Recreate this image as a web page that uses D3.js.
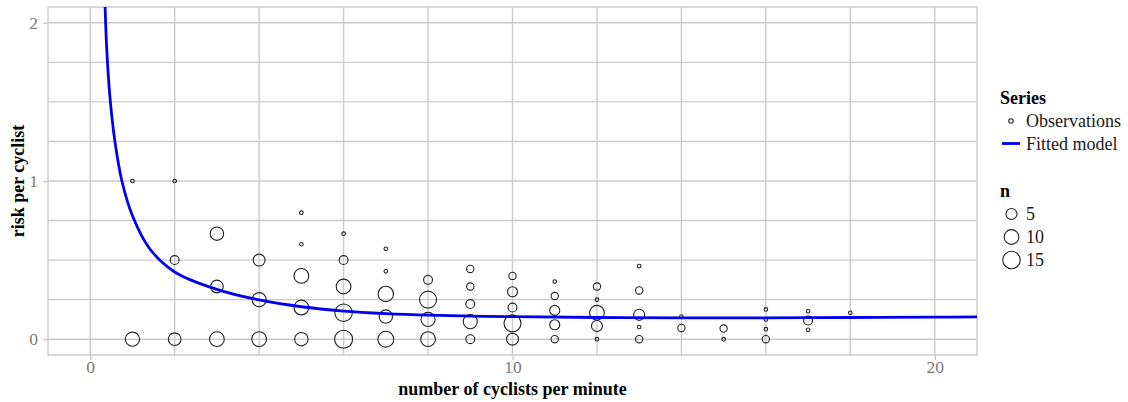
<!DOCTYPE html>
<html>
    <head>
        <meta charset="utf-8">
        <title>risk per cyclist</title>
        <script src="https://d3js.org/d3.v7.min.js"></script>
        <style>
            body { margin: 0; background: #fff; }
            text { font-family: "Liberation Serif", "DejaVu Serif", serif; }
        </style>
    </head>
    <body>
        <script type="text/javascript">
            // observations: cyclists per minute, risk per cyclist, n
            const obsCyclists = [1,1, 2,2,2, 3,3,3, 4,4,4, 5,5,5,5,5, 6,6,6,6,6, 7,7,7,7,7, 8,8,8,8,
                9,9,9,9,9, 10,10,10,10,10, 11,11,11,11,11, 12,12,12,12,12, 13,13,13,13,13,
                14,14, 15,15, 16,16,16,16, 17,17,17, 18];
            const obsRisk = [1,0, 1,0.5,0, 0.667,0.333,0, 0.5,0.25,0, 0.8,0.6,0.4,0.2,0,
                0.667,0.5,0.333,0.167,0, 0.571,0.429,0.286,0.143,0, 0.375,0.25,0.125,0,
                0.444,0.333,0.222,0.111,0, 0.4,0.3,0.2,0.1,0, 0.364,0.273,0.182,0.091,0,
                0.333,0.25,0.167,0.083,0, 0.462,0.308,0.154,0.077,0,
                0.143,0.071, 0.067,0, 0.188,0.125,0.063,0, 0.176,0.118,0.059, 0.167];
            const obsN = [1,9, 1,3,7, 8,7,10, 6,9,10, 1,1,10,10,8, 1,3,10,15,16, 1,1,11,8,12,
                3,14,9,10, 2,2,3,9,3, 2,4,3,14,6, 1,2,4,4,2, 2,1,10,5,1, 1,2,5,1,2,
                1,2, 2,1, 1,1,1,2, 1,3,1, 1];

            // fitted model
            const fitCyclists = [0.35, 0.39, 0.47, 0.59, 0.75, 1, 1.4, 2, 3, 4, 5, 6, 7, 8, 10, 12, 14, 16, 18, 20, 21];
            const fitRisk = [2.12, 1.84, 1.52, 1.24, 1.0, 0.78, 0.575, 0.425, 0.315, 0.248, 0.205, 0.178, 0.162, 0.152,
                0.142, 0.137, 0.135, 0.135, 0.137, 0.139, 0.141];

            const xTicks = [0, 10, 20];
            const yTicks = [0, 1, 2];
            const legendN = [5, 10, 15];

            const width = 1128, height = 402;
            const pLeft = 48, pRight = 977, pTop = 7, pBottom = 355;
            const gridColor = '#cbcbcb';

            const svg = d3.select('body').append('svg').attr('width', width).attr('height', height);

            const x = d3.scaleLinear().domain([-1, 21]).range([pLeft, pRight]);
            const y = d3.scaleLinear().domain([-0.1, 2.1]).range([pBottom, pTop]);
            // ggplot style area scale for the circle sizes
            const sizeT = d3.scaleLinear().domain([1, 16]).range([0, 1]);
            const rLin = d3.scaleLinear().domain([0, 1]).range([1.8, 9]);
            const r = n => rLin(Math.sqrt(sizeT(n)));

            // grid
            const grid = svg.append('g');
            grid.selectAll('line.v').data(d3.range(0, 21, 2)).join('line')
                .attr('class', 'v')
                .attr('x1', d => x(d)).attr('x2', d => x(d)).attr('y1', pTop).attr('y2', pBottom)
                .attr('stroke', gridColor).attr('stroke-width', 1.4);
            grid.selectAll('line.h').data(d3.range(0, 2.01, 0.25)).join('line')
                .attr('class', 'h')
                .attr('x1', pLeft).attr('x2', pRight).attr('y1', d => y(d)).attr('y2', d => y(d))
                .attr('stroke', gridColor).attr('stroke-width', 1.4);
            svg.append('rect').attr('x', pLeft).attr('y', pTop).attr('width', pRight - pLeft).attr('height', pBottom - pTop)
                .attr('fill', 'none').attr('stroke', gridColor).attr('stroke-width', 1.4);

            // axes
            const xAxis = svg.append('g').attr('transform', `translate(0,${pBottom})`)
                .call(d3.axisBottom(x).tickValues(xTicks).tickFormat(d3.format('d')).tickSize(5).tickPadding(1));
            const yAxis = svg.append('g').attr('transform', `translate(${pLeft},0)`)
                .call(d3.axisLeft(y).tickValues(yTicks).tickFormat(d3.format('d')).tickSize(5).tickPadding(5));
            [xAxis, yAxis].forEach(a => {
                a.select('.domain').remove();
                a.selectAll('line').attr('stroke', gridColor).attr('stroke-width', 1.4);
                a.selectAll('text').attr('font-family', '"Liberation Serif", serif')
                    .attr('font-size', 17.5).attr('fill', '#7a7a7a');
            });

            svg.append('text').attr('x', (pLeft + pRight) / 2).attr('y', 395)
                .attr('text-anchor', 'middle').attr('font-size', 18).attr('font-weight', 'bold')
                .text('number of cyclists per minute');
            svg.append('text').attr('transform', `translate(24,${(pTop + pBottom) / 2}) rotate(-90)`)
                .attr('text-anchor', 'middle').attr('font-size', 18).attr('font-weight', 'bold')
                .text('risk per cyclist');

            // points
            const obs = obsCyclists.map((c, i) => ({c, risk: obsRisk[i], n: obsN[i]}));
            svg.append('g').selectAll('circle').data(obs).join('circle')
                .attr('cx', d => x(d.c)).attr('cy', d => y(d.risk)).attr('r', d => r(d.n))
                .attr('fill', 'none').attr('stroke', '#222').attr('stroke-width', 1.1);

            // fitted line
            svg.append('clipPath').attr('id', 'panel').append('rect')
                .attr('x', pLeft).attr('y', pTop).attr('width', pRight - pLeft).attr('height', pBottom - pTop);
            const fit = fitCyclists.map((c, i) => [c, fitRisk[i]]);
            svg.append('path').datum(fit)
                .attr('clip-path', 'url(#panel)')
                .attr('d', d3.line().x(d => x(d[0])).y(d => y(d[1])).curve(d3.curveCatmullRom.alpha(0.5)))
                .attr('fill', 'none').attr('stroke', '#0000ee').attr('stroke-width', 2.8);

            // legend
            const lg = svg.append('g');
            lg.append('text').attr('x', 1000).attr('y', 104).attr('font-size', 18).attr('font-weight', 'bold').text('Series');
            lg.append('circle').attr('cx', 1011).attr('cy', 121).attr('r', 2.2)
                .attr('fill', 'none').attr('stroke', '#222').attr('stroke-width', 1.1);
            lg.append('text').attr('x', 1026).attr('y', 126.5).attr('font-size', 18).attr('fill', '#1a1a1a').text('Observations');
            lg.append('line').attr('x1', 1002).attr('x2', 1020).attr('y1', 143.5).attr('y2', 143.5)
                .attr('stroke', '#0000ee').attr('stroke-width', 2.8);
            lg.append('text').attr('x', 1026).attr('y', 149.5).attr('font-size', 18).attr('fill', '#1a1a1a').text('Fitted model');

            lg.append('text').attr('x', 1000).attr('y', 197).attr('font-size', 18).attr('font-weight', 'bold').text('n');
            lg.selectAll('circle.n').data(legendN).join('circle')
                .attr('class', 'n')
                .attr('cx', 1011.5).attr('cy', (d, i) => 214 + i * 23).attr('r', d => r(d))
                .attr('fill', 'none').attr('stroke', '#222').attr('stroke-width', 1.1);
            lg.selectAll('text.n').data(legendN).join('text')
                .attr('class', 'n')
                .attr('x', 1026).attr('y', (d, i) => 220 + i * 23).attr('font-size', 18).attr('fill', '#1a1a1a')
                .text(d => d);
        </script>
    </body>
</html>
